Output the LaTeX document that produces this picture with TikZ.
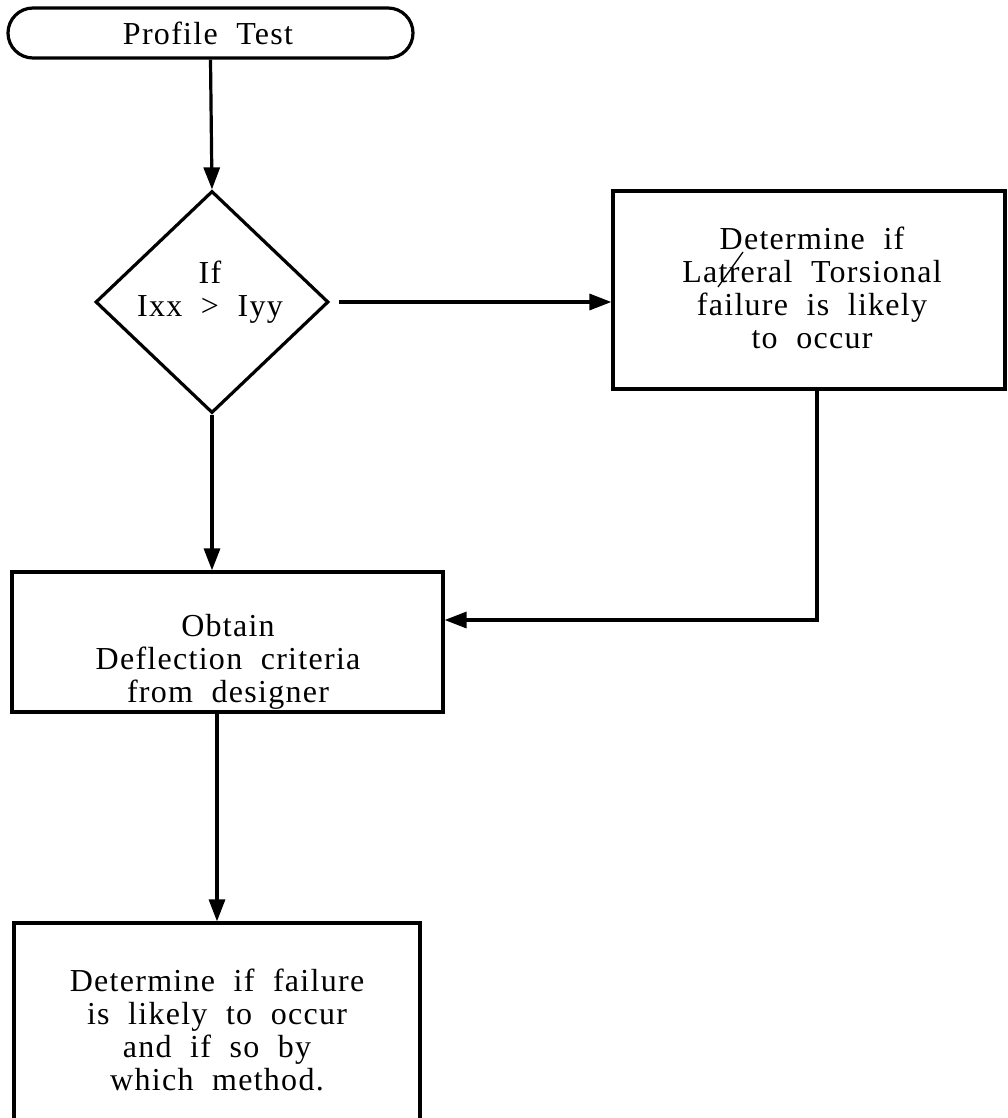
\documentclass[tikz,border=0pt]{standalone}
\usepackage{fontspec}
\setmainfont[LetterSpace=4,WordSpace=2]{Liberation Serif}
\usetikzlibrary{shapes.geometric,arrows.meta}
\begin{document}
\begin{tikzpicture}[x=1pt,y=-1pt,
  box/.style={draw,line width=3.2pt,inner sep=0pt},
  txt/.style={align=center,inner sep=0pt,font=\fontsize{32}{33}\selectfont},
  conn/.style={line width=3.2pt},
  arr/.style={conn,-{Triangle[length=22pt,width=16pt]}}]
\useasboundingbox (0,0) rectangle (1008,1118);
\fill[white] (0,0) rectangle (1008,1118);
% shapes
\node[box,rounded corners=25pt,minimum width=405pt,minimum height=50pt] (term) at (210.5,33) {};
\node[box,diamond,minimum width=233pt,minimum height=222pt] (dec) at (212,302) {};
\node[box,minimum width=392pt,minimum height=198pt] (rbox) at (809,290) {};
\node[box,minimum width=431pt,minimum height=140pt] (mbox) at (227.5,642) {};
\node[box,minimum width=406pt,minimum height=206pt] (bbox) at (217,1026) {};
% texts
\node[txt] (termt) at (208,33) {Profile Test};
\node[txt] (dect) at (210,292) {If\\Ixx {\addfontfeature{LetterSpace=0}>} Iyy};
\node[txt] (rboxt) at (812,288) {Determine if\\Latreral Torsional\\failure is likely\\to occur};
\node[txt] (mboxt) at (228,662) {Obtain\\Deflection criteria\\from designer};
\node[txt] (bboxt) at (217,1030) {Determine if failure\\is likely to occur\\and if so by\\which method.};
% hand mark over the word
\draw[line width=1.3pt] (718,287) -- (743,252);
% connectors
\draw[arr] (term.south) -- (dec.north);
\coordinate (decr) at ([xshift=9pt]dec.east);
\draw[arr] (decr) -- (decr -| rbox.west);
\draw[arr] (dec.south) -- (dec.south |- mbox.north);
\coordinate (rdown) at ([xshift=8pt]rbox.south);
\coordinate (rturn) at ([yshift=22pt]rdown |- mbox.east);
\draw[arr] (rdown) -- (rturn) -- (rturn -| mbox.east);
\draw[arr] (mbox.south -| bbox.north) -- (bbox.north);
\end{tikzpicture}
\end{document}
